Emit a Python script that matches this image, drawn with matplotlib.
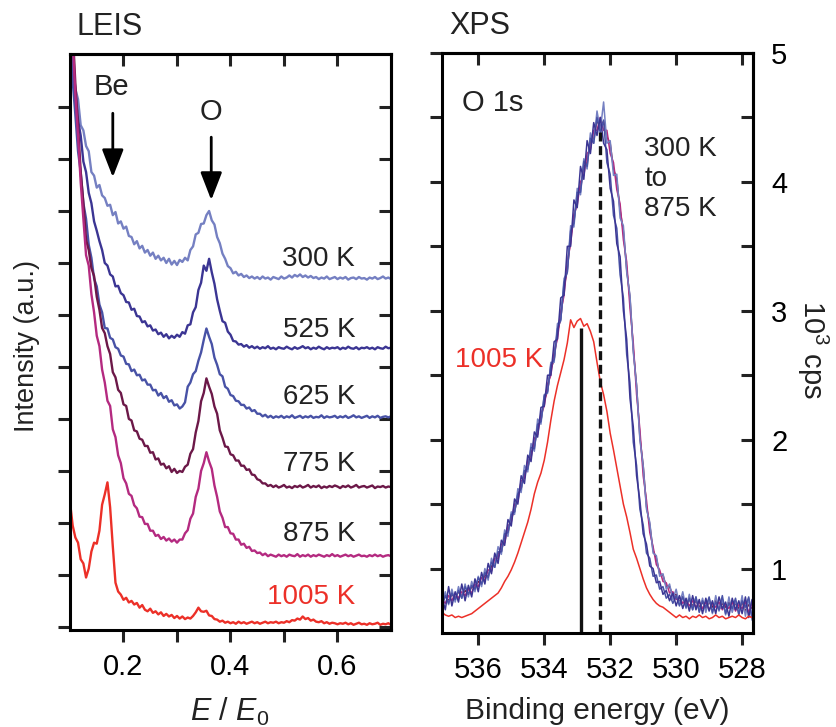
import matplotlib
matplotlib.use('Agg')
from matplotlib import pyplot as plt

plt.rcParams['font.family'] = 'Liberation Sans'
plt.rcParams['mathtext.fontset'] = 'custom'
plt.rcParams['mathtext.rm'] = 'Liberation Sans'
plt.rcParams['mathtext.it'] = 'Liberation Sans:italic'
plt.rcParams['axes.linewidth'] = 2.2

# LEIS spectra, E/E0 channels and stacked intensity (a.u.)
leis_x = [0.100, 0.105, 0.110, 0.115, 0.120, 0.125, 0.130, 0.135, 0.140, 0.145,
          0.150, 0.155, 0.160, 0.165, 0.170, 0.175, 0.180, 0.185, 0.190, 0.195,
          0.200, 0.205, 0.210, 0.215, 0.220, 0.225, 0.230, 0.235, 0.240, 0.245,
          0.250, 0.255, 0.260, 0.265, 0.270, 0.275, 0.280, 0.285, 0.290, 0.295,
          0.300, 0.305, 0.310, 0.315, 0.320, 0.325, 0.330, 0.335, 0.340, 0.345,
          0.350, 0.355, 0.360, 0.365, 0.370, 0.375, 0.380, 0.385, 0.390, 0.395,
          0.400, 0.405, 0.410, 0.415, 0.420, 0.425, 0.430, 0.435, 0.440, 0.445,
          0.450, 0.455, 0.460, 0.465, 0.470, 0.475, 0.480, 0.485, 0.490, 0.495,
          0.500, 0.505, 0.510, 0.515, 0.520, 0.525, 0.530, 0.535, 0.540, 0.545,
          0.550, 0.555, 0.560, 0.565, 0.570, 0.575, 0.580, 0.585, 0.590, 0.595,
          0.600, 0.605, 0.610, 0.615, 0.620, 0.625, 0.630, 0.635, 0.640, 0.645,
          0.650, 0.655, 0.660, 0.665, 0.670, 0.675, 0.680, 0.685, 0.690, 0.695,
          0.700]

leis_300 = [12.5, 10.85, 10.35, 10.15, 9.65, 9.55, 9.25, 9.15, 8.75, 8.68,
            8.45, 8.5, 8.3, 8.25, 8.1, 8.12, 7.92, 7.98, 7.76, 7.8,
            7.66, 7.7, 7.52, 7.5, 7.36, 7.42, 7.28, 7.33, 7.2, 7.25,
            7.14, 7.2, 7.08, 7.14, 7.05, 7.1, 7.0, 7.08, 6.97, 7.04,
            6.96, 7.06, 7.02, 7.1, 7.05, 7.25, 7.32, 7.55, 7.58, 7.75,
            7.76, 7.92, 8.0, 7.82, 7.74, 7.5, 7.38, 7.18, 7.08, 6.94,
            6.9, 6.8, 6.83, 6.76, 6.79, 6.73, 6.76, 6.71, 6.74, 6.7,
            6.73, 6.69, 6.74, 6.7, 6.72, 6.68, 6.73, 6.71, 6.69, 6.74,
            6.7, 6.72, 6.76, 6.72, 6.77, 6.74, 6.78, 6.73, 6.76, 6.72,
            6.75, 6.71, 6.73, 6.69, 6.72, 6.7, 6.74, 6.69, 6.71, 6.73,
            6.69, 6.72, 6.7, 6.73, 6.68, 6.71, 6.72, 6.69, 6.73, 6.7,
            6.71, 6.68, 6.72, 6.7, 6.73, 6.69, 6.71, 6.74, 6.7, 6.72,
            6.69]

leis_525 = [12.5, 10.6, 10.25, 9.75, 9.45, 8.95, 8.75, 8.35, 8.15, 7.8,
            7.62, 7.42, 7.25, 7.0, 6.95, 6.78, 6.74, 6.55, 6.56, 6.42,
            6.38, 6.25, 6.24, 6.1, 6.12, 5.98, 5.97, 5.86, 5.88, 5.78,
            5.8, 5.7, 5.72, 5.63, 5.66, 5.58, 5.63, 5.55, 5.6, 5.56,
            5.62, 5.58, 5.67, 5.64, 5.8, 5.82, 6.05, 6.15, 6.48, 6.62,
            6.95, 6.85, 7.08, 6.82, 6.6, 6.3, 6.08, 5.88, 5.85, 5.68,
            5.62, 5.5, 5.49, 5.43, 5.44, 5.39, 5.42, 5.37, 5.4, 5.36,
            5.39, 5.35, 5.38, 5.36, 5.4, 5.35, 5.37, 5.34, 5.38, 5.36,
            5.35, 5.39, 5.36, 5.34, 5.38, 5.35, 5.37, 5.4, 5.36, 5.38,
            5.34, 5.37, 5.35, 5.39, 5.36, 5.34, 5.38, 5.35, 5.37, 5.36,
            5.38, 5.34, 5.37, 5.35, 5.39, 5.36, 5.35, 5.38, 5.34, 5.37,
            5.36, 5.38, 5.35, 5.37, 5.34, 5.38, 5.36, 5.35, 5.39, 5.36,
            5.37]

leis_625 = [12.5, 10.5, 9.85, 9.15, 8.75, 8.15, 7.85, 7.35, 7.1, 6.7,
            6.55, 6.2, 6.05, 5.75, 5.74, 5.56, 5.53, 5.38, 5.35, 5.22,
            5.2, 5.06, 5.05, 4.92, 4.95, 4.84, 4.85, 4.74, 4.76, 4.66,
            4.66, 4.55, 4.56, 4.45, 4.5, 4.4, 4.44, 4.33, 4.36, 4.26,
            4.28, 4.2, 4.24, 4.32, 4.62, 4.7, 4.86, 4.92, 5.12, 5.28,
            5.52, 5.74, 5.58, 5.44, 5.18, 5.04, 4.86, 4.82, 4.62, 4.58,
            4.46, 4.44, 4.35, 4.34, 4.27, 4.27, 4.2, 4.22, 4.15, 4.17,
            4.1, 4.1, 4.05, 4.08, 4.03, 4.06, 4.02, 4.05, 4.03, 4.06,
            4.02, 4.05, 4.03, 4.07, 4.02, 4.04, 4.06, 4.02, 4.05, 4.03,
            4.06, 4.02, 4.04, 4.03, 4.07, 4.02, 4.05, 4.03, 4.04, 4.06,
            4.02, 4.05, 4.03, 4.06, 4.02, 4.04, 4.07, 4.03, 4.05, 4.02,
            4.04, 4.06, 4.02, 4.05, 4.03, 4.06, 4.02, 4.04, 4.05, 4.03,
            4.05]

leis_775 = [12.5, 11.5, 10.45, 9.65, 8.75, 8.15, 7.45, 7.25, 6.9, 6.75,
            6.35, 6.1, 5.75, 5.65, 5.4, 5.25, 4.9, 4.8, 4.56, 4.5,
            4.28, 4.25, 4.0, 3.97, 3.78, 3.76, 3.62, 3.6, 3.48, 3.48,
            3.35, 3.36, 3.22, 3.24, 3.12, 3.14, 3.05, 3.09, 2.98, 3.04,
            2.96, 3.0, 2.98, 3.08, 3.12, 3.33, 3.42, 3.74, 3.96, 4.34,
            4.5, 4.78, 4.62, 4.48, 4.24, 4.1, 3.78, 3.64, 3.47, 3.46,
            3.32, 3.3, 3.2, 3.2, 3.1, 3.1, 3.02, 3.03, 2.93, 2.92,
            2.84, 2.82, 2.76, 2.76, 2.71, 2.73, 2.69, 2.72, 2.68, 2.7,
            2.73, 2.68, 2.7, 2.67, 2.71, 2.69, 2.72, 2.68, 2.7, 2.73,
            2.68, 2.71, 2.69, 2.72, 2.67, 2.7, 2.68, 2.71, 2.69, 2.72,
            2.7, 2.67, 2.71, 2.69, 2.72, 2.68, 2.7, 2.73, 2.68, 2.7,
            2.71, 2.68, 2.7, 2.72, 2.67, 2.7, 2.69, 2.71, 2.68, 2.7,
            2.69]

leis_875 = [12.5, 11.3, 10.25, 9.45, 8.55, 7.85, 7.15, 6.95, 6.4, 6.05,
            5.6, 5.4, 4.95, 4.7, 4.35, 4.25, 3.8, 3.65, 3.3, 3.15,
            2.86, 2.76, 2.56, 2.52, 2.34, 2.28, 2.12, 2.11, 1.98, 1.98,
            1.85, 1.85, 1.75, 1.77, 1.69, 1.73, 1.66, 1.7, 1.64, 1.68,
            1.62, 1.68, 1.68, 1.8, 1.86, 2.08, 2.18, 2.5, 2.66, 3.0,
            3.15, 3.36, 3.18, 3.04, 2.72, 2.5, 2.22, 2.1, 1.92, 1.92,
            1.8, 1.79, 1.68, 1.68, 1.58, 1.6, 1.52, 1.54, 1.46, 1.47,
            1.42, 1.43, 1.38, 1.41, 1.36, 1.39, 1.37, 1.35, 1.39, 1.36,
            1.38, 1.35, 1.39, 1.37, 1.36, 1.4, 1.35, 1.38, 1.36, 1.39,
            1.35, 1.38, 1.36, 1.39, 1.37, 1.35, 1.38, 1.36, 1.4, 1.36,
            1.38, 1.35, 1.37, 1.39, 1.36, 1.38, 1.35, 1.37, 1.39, 1.36,
            1.37, 1.35, 1.38, 1.36, 1.39, 1.36, 1.38, 1.35, 1.37, 1.38,
            1.36]

leis_1005 = [2.4, 1.95, 1.72, 1.62, 1.3, 1.22, 0.95, 1.12, 1.45, 1.62,
             1.6, 1.85, 2.35, 2.55, 2.78, 2.3, 1.55, 0.85, 0.68, 0.62,
             0.52, 0.56, 0.47, 0.5, 0.43, 0.46, 0.37, 0.42, 0.33, 0.3,
             0.35, 0.27, 0.3, 0.24, 0.28, 0.21, 0.25, 0.2, 0.23, 0.17,
             0.21, 0.16, 0.2, 0.15, 0.18, 0.16, 0.21, 0.28, 0.37, 0.3,
             0.29, 0.31, 0.22, 0.21, 0.15, 0.14, 0.1, 0.12, 0.08, 0.1,
             0.07, 0.09, 0.06, 0.1, 0.07, 0.09, 0.06, 0.08, 0.1, 0.07,
             0.09, 0.06, 0.08, 0.1, 0.07, 0.09, 0.08, 0.1, 0.07, 0.09,
             0.08, 0.11, 0.09, 0.13, 0.12, 0.16, 0.14, 0.2, 0.15, 0.17,
             0.12, 0.14, 0.1, 0.09, 0.11, 0.07, 0.09, 0.06, 0.08, 0.07,
             0.05, 0.07, 0.06, 0.08, 0.05, 0.07, 0.04, 0.06, 0.08, 0.05,
             0.06, 0.04, 0.07, 0.05, 0.06, 0.08, 0.04, 0.06, 0.05, 0.07,
             0.04]

# XPS O 1s spectra, binding energy (eV) and counts (10^3 cps)
xps_be = [537.1, 537.0, 536.9, 536.8, 536.7, 536.6, 536.5, 536.4, 536.3, 536.2,
          536.1, 536.0, 535.9, 535.8, 535.7, 535.6, 535.5, 535.4, 535.3, 535.2,
          535.1, 535.0, 534.9, 534.8, 534.7, 534.6, 534.5, 534.4, 534.3, 534.2,
          534.1, 534.0, 533.9, 533.8, 533.7, 533.6, 533.5, 533.4, 533.3, 533.2,
          533.1, 533.0, 532.9, 532.8, 532.7, 532.6, 532.5, 532.4, 532.3, 532.2,
          532.1, 532.0, 531.9, 531.8, 531.7, 531.6, 531.5, 531.4, 531.3, 531.2,
          531.1, 531.0, 530.9, 530.8, 530.7, 530.6, 530.5, 530.4, 530.3, 530.2,
          530.1, 530.0, 529.9, 529.8, 529.7, 529.6, 529.5, 529.4, 529.3, 529.2,
          529.1, 529.0, 528.9, 528.8, 528.7, 528.6, 528.5, 528.4, 528.3, 528.2,
          528.1, 528.0, 527.9, 527.8, 527.7, 527.6]

xps_300 = [0.72, 0.82, 0.72, 0.84, 0.74, 0.86, 0.77, 0.88, 0.78, 0.9,
           0.82, 0.94, 0.86, 1.0, 0.91, 1.08, 1.01, 1.17, 1.11, 1.3,
           1.25, 1.44, 1.42, 1.62, 1.59, 1.8, 1.75, 1.97, 1.91, 2.16,
           2.12, 2.35, 2.36, 2.6, 2.6, 2.9, 2.92, 3.25, 3.3, 3.66,
           3.65, 3.95, 3.9, 4.18, 4.1, 4.38, 4.3, 4.55, 4.4, 4.62,
           4.3, 4.32, 4.05, 4.06, 3.72, 3.66, 3.3, 3.12, 2.68, 2.42,
           2.0, 1.8, 1.46, 1.36, 1.12, 1.1, 0.94, 0.96, 0.84, 0.88,
           0.76, 0.84, 0.72, 0.82, 0.69, 0.8, 0.68, 0.78, 0.67, 0.77,
           0.66, 0.77, 0.65, 0.79, 0.67, 0.76, 0.64, 0.78, 0.66, 0.75,
           0.65, 0.79, 0.63, 0.77, 0.6, 0.75]

xps_525 = [0.78, 0.68, 0.86, 0.71, 0.82, 0.74, 0.88, 0.75, 0.87, 0.78,
           0.92, 0.82, 0.97, 0.88, 1.04, 0.96, 1.12, 1.04, 1.22, 1.18,
           1.38, 1.33, 1.54, 1.5, 1.72, 1.66, 1.88, 1.83, 2.06, 2.02,
           2.25, 2.26, 2.5, 2.5, 2.76, 2.78, 3.1, 3.12, 3.5, 3.5,
           3.86, 3.8, 4.12, 4.02, 4.32, 4.22, 4.46, 4.36, 4.5, 4.3,
           4.25, 3.95, 3.85, 3.52, 3.42, 3.0, 2.78, 2.32, 2.1, 1.72,
           1.53, 1.27, 1.19, 1.02, 1.0, 0.89, 0.9, 0.8, 0.83, 0.75,
           0.81, 0.71, 0.79, 0.69, 0.77, 0.67, 0.79, 0.68, 0.76, 0.65,
           0.77, 0.67, 0.75, 0.65, 0.78, 0.69, 0.74, 0.63, 0.77, 0.68,
           0.75, 0.65, 0.78, 0.62, 0.76, 0.69]

xps_625 = [0.7, 0.79, 0.73, 0.81, 0.76, 0.83, 0.77, 0.86, 0.8, 0.87,
           0.84, 0.93, 0.88, 0.97, 0.93, 1.05, 1.01, 1.13, 1.13, 1.27,
           1.28, 1.42, 1.44, 1.58, 1.62, 1.76, 1.77, 1.94, 1.93, 2.12,
           2.14, 2.34, 2.37, 2.58, 2.62, 2.86, 2.93, 3.22, 3.3, 3.62,
           3.68, 3.92, 3.92, 4.16, 4.12, 4.34, 4.3, 4.5, 4.38, 4.48,
           4.15, 4.06, 3.74, 3.64, 3.28, 3.1, 2.66, 2.44, 1.98, 1.8,
           1.46, 1.34, 1.12, 1.08, 0.94, 0.95, 0.84, 0.86, 0.77, 0.8,
           0.73, 0.79, 0.71, 0.78, 0.7, 0.77, 0.68, 0.78, 0.66, 0.75,
           0.7, 0.78, 0.66, 0.74, 0.68, 0.79, 0.65, 0.73, 0.69, 0.77,
           0.64, 0.75, 0.7, 0.78, 0.62, 0.73]

xps_775 = [0.74, 0.79, 0.75, 0.8, 0.77, 0.82, 0.79, 0.83, 0.8, 0.86,
           0.85, 0.9, 0.88, 0.95, 0.94, 1.02, 1.03, 1.12, 1.13, 1.25,
           1.28, 1.4, 1.44, 1.57, 1.62, 1.74, 1.78, 1.9, 1.95, 2.1,
           2.15, 2.3, 2.38, 2.55, 2.62, 2.84, 2.94, 3.18, 3.32, 3.58,
           3.7, 3.88, 3.95, 4.12, 4.15, 4.32, 4.33, 4.48, 4.42, 4.47,
           4.35, 4.3, 4.1, 4.02, 3.78, 3.62, 3.32, 3.1, 2.7, 2.42,
           2.02, 1.8, 1.48, 1.34, 1.14, 1.08, 0.96, 0.95, 0.86, 0.86,
           0.79, 0.8, 0.74, 0.78, 0.72, 0.76, 0.71, 0.75, 0.7, 0.74,
           0.69, 0.74, 0.7, 0.75, 0.68, 0.73, 0.7, 0.74, 0.68, 0.73,
           0.69, 0.74, 0.67, 0.72, 0.69, 0.74]

xps_875 = [0.76, 0.73, 0.79, 0.75, 0.81, 0.77, 0.82, 0.79, 0.84, 0.81,
           0.88, 0.86, 0.93, 0.91, 0.99, 0.98, 1.08, 1.08, 1.19, 1.2,
           1.33, 1.36, 1.5, 1.52, 1.68, 1.7, 1.84, 1.86, 2.01, 2.04,
           2.2, 2.26, 2.43, 2.5, 2.68, 2.78, 2.99, 3.12, 3.38, 3.52,
           3.75, 3.82, 4.0, 4.05, 4.22, 4.25, 4.4, 4.4, 4.5, 4.4,
           4.4, 4.22, 4.15, 3.94, 3.83, 3.55, 3.38, 3.02, 2.75, 2.35,
           2.08, 1.72, 1.53, 1.28, 1.17, 1.03, 0.99, 0.9, 0.89, 0.81,
           0.82, 0.76, 0.78, 0.73, 0.76, 0.71, 0.75, 0.7, 0.74, 0.69,
           0.74, 0.68, 0.73, 0.7, 0.74, 0.68, 0.72, 0.69, 0.74, 0.67,
           0.72, 0.69, 0.74, 0.66, 0.73, 0.7]

xps_1005 = [0.66, 0.64, 0.63, 0.64, 0.62, 0.63, 0.62, 0.63, 0.64, 0.65,
            0.67, 0.69, 0.71, 0.73, 0.75, 0.77, 0.79, 0.81, 0.85, 0.9,
            0.94, 0.99, 1.05, 1.12, 1.2, 1.28, 1.36, 1.46, 1.58, 1.67,
            1.74, 1.84, 1.98, 2.15, 2.3, 2.42, 2.52, 2.62, 2.75, 2.93,
            2.87, 2.92, 2.94, 2.88, 2.9, 2.84, 2.76, 2.6, 2.45, 2.35,
            2.22, 2.05, 1.92, 1.78, 1.64, 1.5, 1.4, 1.28, 1.15, 1.08,
            1.0, 0.92, 0.85, 0.8, 0.76, 0.73, 0.71, 0.7, 0.68, 0.66,
            0.64, 0.62, 0.64, 0.62, 0.63, 0.61, 0.63, 0.62, 0.64, 0.62,
            0.63, 0.61, 0.62, 0.64, 0.62, 0.63, 0.61, 0.62, 0.63, 0.62,
            0.64, 0.62, 0.61, 0.63, 0.62, 0.64]

# O 1s peak positions (eV) and heights of the marker lines
o1s_peak_be = [532.9, 532.3]
o1s_peak_top = [2.87, 4.39]

temps = ['300 K', '525 K', '625 K', '775 K', '875 K', '1005 K']
colors = ['#7580c2', '#3b3593', '#4852a6', '#6c1848', '#b42a80', '#ec3028']
leis = [leis_300, leis_525, leis_625, leis_775, leis_875, leis_1005]
label_y = [7.08, 5.72, 4.42, 3.13, 1.79, 0.58]

fig = plt.figure(figsize=(8.37, 7.27), dpi=100)
ax1 = fig.add_axes([70 / 837, 1 - 630 / 727, 321 / 837, 576 / 727])
ax2 = fig.add_axes([442 / 837, 1 - 633 / 727, 311 / 837, 580 / 727])

tick_kw = dict(length=8.6, width=2.2, labelsize=21, color='#222222')

# ---- LEIS panel ----
for spec, c in zip(leis, colors):
    ax1.plot(leis_x, spec, color=c, lw=1.7)
for t, y, c in zip(temps, label_y, colors):
    ax1.text(0.633, y, t, color=('#ec3028' if t == '1005 K' else '#222222'),
             fontsize=20, ha='right', va='center')

ax1.set_xlim(0.1, 0.7)
ax1.set_ylim(-0.06, 11.02)
ax1.set_xticks([0.2, 0.3, 0.4, 0.5, 0.6])
ax1.set_xticklabels(['0.2', '', '0.4', '', '0.6'])
ax1.set_yticks(range(0, 11))
ax1.tick_params(axis='x', direction='out', pad=8, **tick_kw)
ax1.tick_params(axis='y', direction='out', labelleft=False, **tick_kw)
top1 = ax1.secondary_xaxis('top')
top1.set_xticks([0.2, 0.3, 0.4, 0.5, 0.6])
top1.tick_params(direction='in', labeltop=False, **tick_kw)
right1 = ax1.secondary_yaxis('right')
right1.set_yticks(range(0, 11))
right1.tick_params(direction='in', labelright=False, **tick_kw)

# element markers
ax1.annotate('', xy=(0.18, 8.65), xytext=(0.18, 9.88),
             arrowprops=dict(arrowstyle='-|>,head_length=0.85,head_width=0.33',
                             mutation_scale=20, lw=2, color='black',
                             shrinkA=0, shrinkB=0))
ax1.annotate('', xy=(0.364, 8.21), xytext=(0.364, 9.42),
             arrowprops=dict(arrowstyle='-|>,head_length=0.85,head_width=0.33',
                             mutation_scale=20, lw=2, color='black',
                             shrinkA=0, shrinkB=0))
ax1.text(0.178, 10.38, 'Be', fontsize=21, ha='center', va='center', color='#222222')
ax1.text(0.364, 9.9, 'O', fontsize=21, ha='center', va='center', color='#222222')

# ---- XPS panel ----
xps = [xps_775, xps_875, xps_300, xps_625, xps_525, xps_1005]
xps_colors = [colors[3], colors[4], colors[0], colors[2], colors[1], colors[5]]
for spec, c in zip(xps, xps_colors):
    ax2.plot(xps_be, spec, color=c, lw=1.1)

ax2.vlines(o1s_peak_be[0], 0.5, o1s_peak_top[0], color='#111111', lw=2.4)
ax2.vlines(o1s_peak_be[1], 0.5, o1s_peak_top[1], color='#111111', lw=2.4,
           linestyles=(0, (2.7, 1.4)))

ax2.set_xlim(537.1, 527.67)
ax2.set_ylim(0.5, 5.0)
ax2.set_xticks([536, 534, 532, 530, 528])
ax2.set_yticks([1, 1.5, 2, 2.5, 3, 3.5, 4, 4.5, 5])
ax2.tick_params(axis='x', direction='out', pad=8, **tick_kw)
ax2.tick_params(axis='y', direction='out', labelleft=False, **tick_kw)
top2 = ax2.secondary_xaxis('top')
top2.set_xticks([536, 534, 532, 530, 528])
top2.tick_params(direction='in', labeltop=False, **tick_kw)
right2 = ax2.secondary_yaxis('right')
right2.set_yticks([1, 1.5, 2, 2.5, 3, 3.5, 4, 4.5, 5])
right2.set_yticklabels(['1', '', '2', '', '3', '', '4', '', '5'])
right2.tick_params(direction='in', pad=13, **tick_kw)

ax2.text(536.49, 4.61, 'O 1s', fontsize=21, ha='left', va='center', color='#222222')
ax2.text(530.96, 4.02, '300 K\nto\n875 K', fontsize=20, ha='left', va='center',
         linespacing=1.2, color='#222222')
ax2.text(536.7, 2.62, '1005 K', fontsize=20, ha='left', va='center', color='#ec3028')

# ---- titles and axis labels ----
fig.text(77 / 837, 1 - 35 / 727, 'LEIS', fontsize=22, va='baseline', color='#222222')
fig.text(449 / 837, 1 - 34 / 727, 'XPS', fontsize=22, va='baseline', color='#222222')
fig.text(230 / 837, 1 - 721 / 727, r'$\mathit{E}\ /\ \mathit{E}_{0}$', fontsize=22,
         ha='center', va='baseline', color='#222222')
fig.text(597 / 837, 1 - 719 / 727, 'Binding energy (eV)', fontsize=21.5,
         ha='center', va='baseline', color='#222222')
fig.text(27 / 837, 1 - 346 / 727, 'Intensity (a.u.)', fontsize=19.5, rotation=90,
         ha='center', va='center', color='#222222')
fig.text(813 / 837, 1 - 350 / 727, r'10$^{3}$ cps', fontsize=21, rotation=-90,
         ha='center', va='center', color='#222222')

plt.savefig('out.png', dpi=100)
